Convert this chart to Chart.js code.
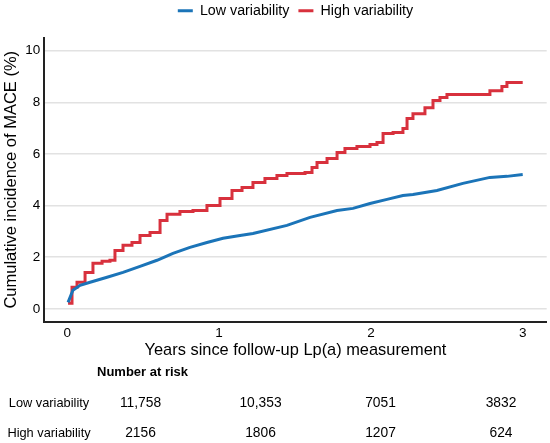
<!DOCTYPE html>
<html>
<head>
<meta charset="utf-8">
<script src="https://cdn.jsdelivr.net/npm/chart.js@4.4.1/dist/chart.umd.min.js"></script>
<style>
  html, body { margin: 0; padding: 0; background: #fff; }
  #wrap { width: 550px; height: 443px; }
</style>
</head>
<body>
<div id="wrap"><canvas id="kmChart" width="550" height="443"></canvas></div>
<script>
// Cumulative incidence curves (years, %)
const lowYears = [0.005, 0.037, 0.084, 0.15, 0.262, 0.367, 0.479, 0.591, 0.696, 0.808, 0.92, 1.026, 1.138, 1.223, 1.447, 1.599, 1.777, 1.882, 1.994, 2.106, 2.211, 2.277, 2.435, 2.606, 2.784, 2.896, 3.0];
const lowPct = [0.25, 0.72, 0.91, 1.03, 1.22, 1.41, 1.64, 1.88, 2.15, 2.38, 2.57, 2.73, 2.84, 2.92, 3.23, 3.54, 3.81, 3.89, 4.08, 4.24, 4.39, 4.43, 4.58, 4.86, 5.09, 5.13, 5.2];

const highYears = [0.005, 0.031, 0.064, 0.117, 0.169, 0.229, 0.281, 0.314, 0.367, 0.426, 0.479, 0.545, 0.611, 0.657, 0.742, 0.828, 0.92, 1.006, 1.085, 1.151, 1.223, 1.302, 1.381, 1.447, 1.566, 1.612, 1.645, 1.711, 1.777, 1.829, 1.908, 1.994, 2.04, 2.08, 2.146, 2.211, 2.238, 2.277, 2.356, 2.409, 2.455, 2.501, 2.705, 2.784, 2.863, 2.896, 3.0];
const highPct = [0.21, 0.83, 1.03, 1.41, 1.76, 1.84, 1.88, 2.26, 2.46, 2.57, 2.84, 2.96, 3.42, 3.66, 3.77, 3.81, 4.0, 4.27, 4.58, 4.7, 4.89, 5.05, 5.16, 5.24, 5.28, 5.47, 5.67, 5.82, 6.05, 6.21, 6.29, 6.36, 6.44, 6.79, 6.83, 6.98, 7.37, 7.56, 7.79, 8.07, 8.19, 8.3, 8.3, 8.45, 8.61, 8.77, 8.77];

// Number at risk table
const groupLabels = ['Low variability', 'High variability'];
const riskLow = ['11,758', '10,353', '7051', '3832'];
const riskHigh = ['2156', '1806', '1207', '624'];

const blue = '#1b74b8';
const red = '#d8313d';
const font = '"Liberation Sans", Arial, Helvetica, sans-serif';

function toPoints(xs, ys) {
    return xs.map((x, i) => ({ x: x, y: ys[i] }));
}

// a bit more room between the legend and the plot
const legendGap = {
    id: 'legendGap',
    beforeInit(chart) {
        const fit = chart.legend.fit;
        chart.legend.fit = function() {
            fit.bind(chart.legend)();
            this.height += 10;
        };
    }
};

// draws the "Number at risk" block under the x axis
const riskTable = {
    id: 'riskTable',
    afterDraw(chart) {
        const ctx = chart.ctx;
        const cols = [140.5, 260.5, 380.5, 501];
        const rowsY = [403, 433];
        ctx.save();
        ctx.fillStyle = '#000';
        ctx.textBaseline = 'middle';
        ctx.textAlign = 'left';
        ctx.font = 'bold 13px ' + font;
        ctx.fillText('Number at risk', 97, 372);
        [riskLow, riskHigh].forEach((row, r) => {
            ctx.textAlign = 'center';
            ctx.font = '12.8px ' + font;
            ctx.fillText(groupLabels[r], 49, rowsY[r]);
            ctx.font = '13.8px ' + font;
            row.forEach((v, c) => ctx.fillText(v, cols[c], rowsY[r]));
        });
        ctx.restore();
    }
};

const ctx = document.getElementById('kmChart').getContext('2d');

const kmChart = new Chart(ctx, {
    type: 'line',
    data: {
        datasets: [{
            label: groupLabels[0],
            data: toPoints(lowYears, lowPct),
            borderColor: blue,
            backgroundColor: blue,
            borderWidth: 3,
            pointRadius: 0,
            tension: 0
        }, {
            label: groupLabels[1],
            data: toPoints(highYears, highPct),
            borderColor: red,
            backgroundColor: red,
            borderWidth: 3,
            pointRadius: 0,
            stepped: true
        }]
    },
    options: {
        responsive: false,
        animation: false,
        events: [],
        layout: { padding: { left: 0, right: 3.3, top: -5.5, bottom: 81.3 } },
        plugins: {
            tooltip: { enabled: false },
            legend: {
                position: 'top',
                fullSize: false,
                labels: {
                    usePointStyle: true,
                    pointStyle: 'line',
                    pointStyleWidth: 15,
                    boxHeight: 3,
                    padding: 9,
                    color: '#000',
                    font: { family: font, size: 14.25 }
                }
            }
        },
        scales: {
            x: {
                type: 'linear',
                min: -0.1515,
                max: 3.158,
                afterFit: s => { s.height = 40; },
                grid: { display: false, drawTicks: false },
                border: { display: true, color: '#222', width: 2 },
                ticks: {
                    stepSize: 1,
                    includeBounds: false,
                    padding: 3,
                    color: '#000',
                    font: { family: font, size: 13.5 }
                },
                title: {
                    display: true,
                    text: 'Years since follow-up Lp(a) measurement',
                    color: '#000',
                    padding: { top: 0, bottom: 1.3 },
                    font: { family: font, size: 16.4 }
                }
            },
            y: {
                min: -0.5,
                max: 10.5,
                afterFit: s => { s.width = 44.3; },
                grid: { color: '#e2e2e2', lineWidth: 1.5, drawTicks: false },
                border: { display: true, color: '#222', width: 2 },
                ticks: {
                    stepSize: 2,
                    includeBounds: false,
                    padding: 4,
                    color: '#000',
                    font: { family: font, size: 13.5 }
                },
                title: {
                    display: true,
                    text: 'Cumulative incidence of MACE (%)',
                    color: '#000',
                    padding: { top: 2, bottom: 0 },
                    font: { family: font, size: 16.5 }
                }
            }
        }
    },
    plugins: [legendGap, riskTable]
});
</script>
</body>
</html>
